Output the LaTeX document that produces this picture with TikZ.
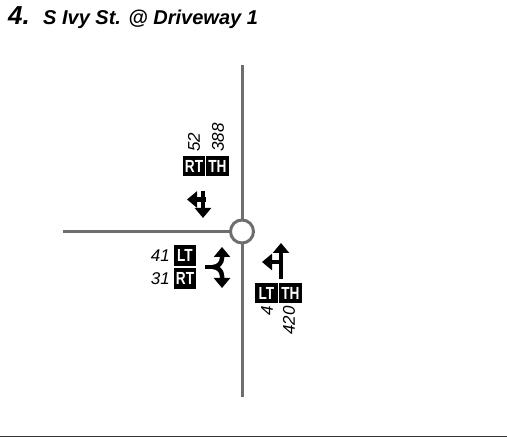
\documentclass[tikz,border=0pt]{standalone}
\usepackage{fontspec}
\setmainfont{Liberation Sans}
\newfontfamily\narrowfont[FakeStretch=0.78]{Liberation Sans}
\usetikzlibrary{arrows.meta}
\definecolor{roadgray}{HTML}{6E6E6E}
\tikzset{
  road/.style={draw=roadgray, line width=3pt},
  mvbox/.style={fill=black, text=white, inner sep=0pt, minimum height=20pt, minimum width=22pt,
    font=\narrowfont\bfseries\fontsize{17.5}{17.5}\selectfont},
  vol/.style={inner sep=0pt, font=\itshape\fontsize{17}{17}\selectfont},
  arr/.style={line width=4.5pt, -{Triangle[width=16pt,length=10pt]}},
  stemline/.style={line width=4.5pt},
  titlebig/.style={anchor=base west, inner sep=0pt, font=\bfseries\itshape\fontsize{26}{26}\selectfont},
  titletext/.style={anchor=base west, inner sep=0pt, font=\bfseries\itshape\fontsize{20}{20}\selectfont}
}
\begin{document}
\begin{tikzpicture}[x=1pt,y=-1pt]
\useasboundingbox (0,0) rectangle (507,438);
% title
\node[titlebig] (num) at (8,25) {4.};
\node[titletext] (title) at (43,25) {S Ivy St. @ Driveway 1};
% roads
\coordinate (ntop) at (242,65);
\coordinate (sbot) at (242,397);
\coordinate (wend) at (63,231.5);
\draw[road] (ntop) -- (242,231.5);
\draw[road] (242,231.5) -- (sbot);
\draw[road] (wend) -- (242,231.5);
\node[circle, draw=roadgray, line width=3pt, fill=white, minimum size=23pt, inner sep=0pt] (c) at (242,231.5) {};
% bottom rule
\coordinate (bl) at (0,436.5);
\coordinate (br) at (507,436.5);
\draw[black!80, line width=1.5pt] (bl) -- (br);
% north approach
\node[mvbox, minimum width=22pt] (nrt) at (194,166.5) {RT};
\node[mvbox, minimum width=23pt] (nth) at (217.5,166.5) {TH};
\node[vol, rotate=90, anchor=west] (n52) at (194,152) {52};
\node[vol, rotate=90, anchor=west] (n388) at (218,152) {388};
\draw[arr] (203,191) -- (203,218);
\draw[arr] (205.5,199.5) -- (187,199.5);
% west approach
\node[mvbox, minimum height=21pt] (wlt) at (185,255.5) {LT};
\node[mvbox, minimum height=21pt] (wrt) at (185,278.5) {RT};
\node[vol, anchor=east] (w41) at (170,255.5) {41};
\node[vol, anchor=east] (w31) at (170,278.5) {31};
\draw[stemline] (205,267) -- (215,267);
\draw[arr] (213,267) to[out=0,in=-90] (222,258) -- (222,247);
\draw[arr] (213,267) to[out=0,in=90] (222,276) -- (222,288);
% south approach
\node[mvbox, minimum width=23pt] (slt) at (266.5,293) {LT};
\node[mvbox, minimum width=23pt] (sth) at (290.5,293) {TH};
\node[vol, rotate=90, anchor=east] (s4) at (267,306) {4};
\node[vol, rotate=90, anchor=east] (s420) at (289,306) {420};
\draw[arr] (281,279) -- (281,243);
\draw[arr] (283,262) -- (262,262);
\end{tikzpicture}
\end{document}
